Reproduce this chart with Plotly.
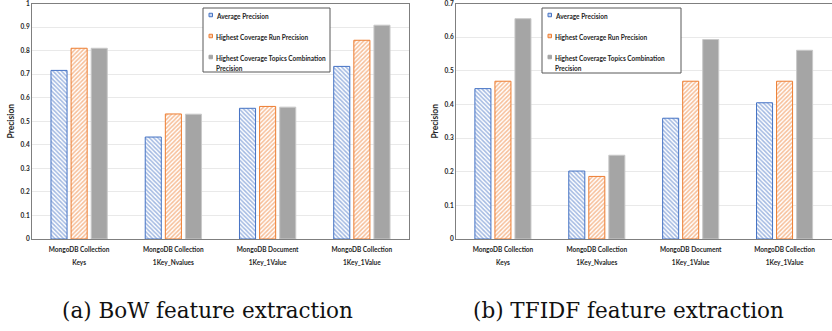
import plotly.graph_objects as go

W, H = 832, 331

categories = ["MongoDB Collection<br>Keys", "MongoDB Collection<br>1Key_Nvalues",
              "MongoDB Document<br>1Key_1Value", "MongoDB Collection<br>1Key_1Value"]
cat_ids = ["c1", "c2", "c3", "c4"]
series_names = ["Average Precision", "Highest Coverage Run Precision",
                "Highest Coverage Topics Combination<br>Precision"]

bow_avg = [0.716, 0.433, 0.555, 0.733]
bow_run = [0.810, 0.531, 0.563, 0.844]
bow_topics = [0.810, 0.530, 0.560, 0.908]

tfidf_avg = [0.447, 0.202, 0.359, 0.405]
tfidf_run = [0.469, 0.186, 0.469, 0.469]
tfidf_topics = [0.655, 0.249, 0.593, 0.561]

bow_ticks = [0, 0.1, 0.2, 0.3, 0.4, 0.5, 0.6, 0.7, 0.8, 0.9, 1]
bow_ticklabels = ["0", "0.1", "0.2", "0.3", "0.4", "0.5", "0.6", "0.7", "0.8", "0.9", "1"]
tfidf_ticks = [0, 0.1, 0.2, 0.3, 0.4, 0.5, 0.6, 0.7]
tfidf_ticklabels = ["0", "0.1", "0.2", "0.3", "0.4", "0.5", "0.6", "0.7"]

captions = ["(a) BoW feature extraction", "(b) TFIDF feature extraction"]

BLUE = "#4472C4"
ORANGE = "#ED7D31"
GRAY = "#A5A5A5"
FONT = "Lato"
TXT = "#262626"

def px(x):
    return x / W

def py(y):
    return 1 - y / H

styles = [
    dict(color="white", line=dict(color=BLUE, width=1),
         pattern=dict(shape="\\", fgcolor=BLUE, bgcolor="white", size=3, solidity=0.5)),
    dict(color="white", line=dict(color=ORANGE, width=1),
         pattern=dict(shape="/", fgcolor=ORANGE, bgcolor="white", size=3, solidity=0.5)),
    dict(color=GRAY, line=dict(color="#C9C9C9", width=1)),
]

fig = go.Figure()
for vals, name, st in zip([bow_avg, bow_run, bow_topics], series_names, styles):
    fig.add_trace(go.Bar(x=cat_ids, y=vals, name=name, marker=st, showlegend=False,
                         xaxis="x", yaxis="y"))
for vals, name, st in zip([tfidf_avg, tfidf_run, tfidf_topics], series_names, styles):
    fig.add_trace(go.Bar(x=cat_ids, y=vals, name=name, marker=st, showlegend=False,
                         xaxis="x2", yaxis="y2"))

ticktext = ["<span style='font-size:6.5px'><b>%s</b></span>" % c.replace("<br>", "</b><br><b>")
            for c in categories]

axis_common = dict(showline=True, linecolor="#7F7F7F", linewidth=1, mirror=True,
                   ticks="", zeroline=False, automargin=False, ticklabeloverflow="allow")
ydom = [py(239), py(3.5)]

def ylabels(lbls):
    return ["<b>%s</b>" % t for t in lbls]

fig.update_layout(
    width=W, height=H, margin=dict(l=0, r=0, t=0, b=0, autoexpand=False),
    paper_bgcolor="white", plot_bgcolor="white",
    barmode="group", bargap=0.36, bargroupgap=0.2,
    font=dict(family=FONT, color=TXT),
    xaxis=dict(domain=[px(32), px(409)], anchor="y", tickmode="array",
               tickvals=cat_ids, ticktext=ticktext, tickfont=dict(size=10, family=FONT, color=TXT),
               showgrid=False, **axis_common),
    yaxis=dict(domain=ydom, anchor="x", range=[0, 1.0001], tickmode="array",
               tickvals=bow_ticks, ticktext=ylabels(bow_ticklabels),
               showgrid=True, gridcolor="#E9E9E9", gridwidth=1,
               tickfont=dict(size=6.5, family=FONT, color=TXT),
               title=dict(text="<b>Precision</b>", font=dict(size=8.5, family=FONT, color=TXT), standoff=4),
               **axis_common),
    xaxis2=dict(domain=[px(456), px(831.5)], anchor="y2", tickmode="array",
                tickvals=cat_ids, ticktext=ticktext, tickfont=dict(size=10, family=FONT, color=TXT),
                showgrid=False, **axis_common),
    yaxis2=dict(domain=ydom, anchor="x2", range=[0, 0.70007], tickmode="array",
                tickvals=tfidf_ticks, ticktext=ylabels(tfidf_ticklabels),
                showgrid=True, gridcolor="#E9E9E9", gridwidth=1,
                tickfont=dict(size=6.5, family=FONT, color=TXT),
                title=dict(text="<b>Precision</b>", font=dict(size=8.5, family=FONT, color=TXT), standoff=4),
                **axis_common),
)

shapes = []
annotations = []

def add_legend(x0, x1, y0, y1):
    shapes.append(dict(type="rect", xref="paper", yref="paper",
                       x0=px(x0), x1=px(x1), y0=py(y1), y1=py(y0),
                       line=dict(color="#595959", width=1), fillcolor="white", layer="above"))
    rows = [15, 36, 57]
    sw = [dict(line=dict(color=BLUE, width=1), fillcolor="#C9D6EE"),
          dict(line=dict(color=ORANGE, width=1), fillcolor="#F8CBAD"),
          dict(line=dict(color=GRAY, width=1), fillcolor=GRAY)]
    for r, name, s in zip(rows, series_names, sw):
        shapes.append(dict(type="rect", xref="paper", yref="paper",
                           x0=px(x0 + 6), x1=px(x0 + 9.5), y0=py(r + 1.75), y1=py(r - 1.75),
                           layer="above", **s))
        lines = name.split("<br>")
        txt = "<span style='font-size:6.5px'><b>" + "</b><br><b>".join(lines) + "</b></span>"
        annotations.append(dict(xref="paper", yref="paper", x=px(x0 + 10.5), y=py(r - 4.5),
                                xanchor="left", yanchor="top", text=txt, showarrow=False,
                                align="left", font=dict(size=7.7, family=FONT, color=TXT)))

add_legend(203, 330, 8, 72)
add_legend(542, 681, 8, 73)

annotations.append(dict(xref="paper", yref="paper", x=px(60), y=py(310), xanchor="left",
                        yanchor="middle", text=captions[0], showarrow=False,
                        font=dict(size=21.5, family="DejaVu Serif", color="#111111")))
annotations.append(dict(xref="paper", yref="paper", x=px(471), y=py(310), xanchor="left",
                        yanchor="middle", text=captions[1], showarrow=False,
                        font=dict(size=21.5, family="DejaVu Serif", color="#111111")))

fig.update_layout(shapes=shapes, annotations=annotations)
fig.write_html("out.html", config={"displayModeBar": False, "staticPlot": True},
               post_script="document.body.style.margin='0';document.body.style.overflow='hidden';")
